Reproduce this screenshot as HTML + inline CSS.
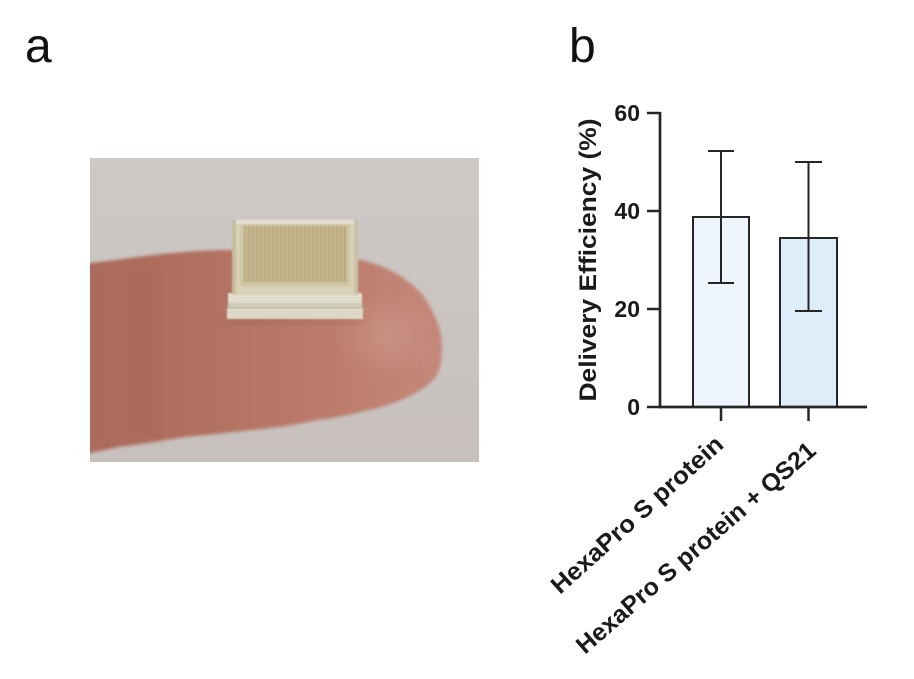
<!DOCTYPE html>
<html>
<head>
<meta charset="utf-8">
<style>
  html, body { margin: 0; padding: 0; background: #ffffff; }
  body { width: 914px; height: 679px; overflow: hidden; }
  svg { display: block; }
  text { font-family: "Liberation Sans", Arial, sans-serif; }
</style>
</head>
<body>
<svg width="914" height="679" viewBox="0 0 914 679" xmlns="http://www.w3.org/2000/svg">
  <defs>
    <clipPath id="photoClip">
      <rect x="90" y="158" width="389" height="304"/>
    </clipPath>
    <linearGradient id="bgGrad" x1="0" y1="0" x2="0" y2="1">
      <stop offset="0" stop-color="#cdc9c6"/>
      <stop offset="1" stop-color="#c7c0bd"/>
    </linearGradient>
    <linearGradient id="fingerGrad" x1="0" y1="0" x2="1" y2="0">
      <stop offset="0" stop-color="#a96a5b"/>
      <stop offset="0.35" stop-color="#b27161"/>
      <stop offset="0.75" stop-color="#bd7e6e"/>
      <stop offset="1" stop-color="#c4897b"/>
    </linearGradient>
    <radialGradient id="tipGlow" cx="0.5" cy="0.5" r="0.5">
      <stop offset="0" stop-color="#d09a8a" stop-opacity="0.6"/>
      <stop offset="1" stop-color="#d09a8a" stop-opacity="0"/>
    </radialGradient>
    <pattern id="stripes" x="0" y="0" width="4" height="10" patternUnits="userSpaceOnUse">
      <rect width="4" height="10" fill="#c9ba93"/>
      <rect width="1.6" height="10" fill="#b3a27a"/>
    </pattern>
    <filter id="soft" x="-5%" y="-5%" width="110%" height="110%">
      <feGaussianBlur stdDeviation="1.6"/>
    </filter>
    <filter id="soft1" x="-5%" y="-5%" width="110%" height="110%">
      <feGaussianBlur stdDeviation="0.7"/>
    </filter>
    <filter id="soft2" x="-20%" y="-20%" width="140%" height="140%">
      <feGaussianBlur stdDeviation="6"/>
    </filter>
  </defs>

  <!-- Panel letters -->
  <text x="25" y="62" font-size="48" fill="#111">a</text>
  <text x="569" y="62" font-size="48" fill="#111">b</text>

  <!-- Photo -->
  <g clip-path="url(#photoClip)">
    <rect x="90" y="158" width="389" height="304" fill="url(#bgGrad)"/>
    <g filter="url(#soft)">
      <path d="M 80 264 L 92 263 C 130 258 165 253 185 252 C 205 250 220 250 230 250
               L 362 260 C 380 265 392 270 402 277 C 416 287 424 295 428 303
               C 436 318 442 330 442 345 C 442 357 441 367 437 375
               C 432 383 422 390 408 397 C 395 403 380 408 368 410
               C 350 415 335 418 318 420 C 295 425 275 428 252 430
               C 225 433 205 435 185 437 C 160 441 135 445 118 447
               C 105 450 95 452 80 455 Z" fill="url(#fingerGrad)"/>
    </g>
    <ellipse cx="385" cy="335" rx="50" ry="45" fill="url(#tipGlow)"/>
    <rect x="130" y="266" width="30" height="175" fill="#9a5b4d" opacity="0.18" filter="url(#soft2)"/>
    <rect x="226" y="316" width="138" height="8" fill="#8f5548" opacity="0.3" filter="url(#soft2)"/>

    <!-- Device -->
    <g filter="url(#soft1)">
      <rect x="227" y="306" width="136" height="13" fill="#ddd8c6"/>
      <rect x="227" y="306" width="136" height="2" fill="#9d9684"/>
      <rect x="228" y="293" width="134" height="14" fill="#e3dfcf"/>
      <rect x="228" y="303" width="134" height="3" fill="#cfc9b4"/>
      <rect x="232" y="220" width="126" height="75" fill="#d8d1b6"/>
      <rect x="232" y="220" width="126" height="4" fill="#e6e1cf"/>
      <rect x="240" y="224" width="110" height="62" fill="#d0c6a6"/>
      <rect x="244" y="226" width="103" height="56" fill="url(#stripes)"/>
      <rect x="232" y="220" width="4" height="75" fill="#c4bd9f"/>
      <rect x="354" y="220" width="4" height="75" fill="#c9c2a6"/>
    </g>
  </g>

  <!-- Chart b -->
  <g stroke="#262626" fill="none">
    <rect x="693" y="217" width="56" height="190" fill="#eef5fd" stroke-width="2"/>
    <rect x="780" y="238" width="57" height="169" fill="#ddedfa" stroke-width="2"/>
    <line x1="721" y1="151" x2="721" y2="283" stroke-width="2"/>
    <line x1="708" y1="151" x2="734" y2="151" stroke-width="2"/>
    <line x1="708" y1="283" x2="734" y2="283" stroke-width="2"/>
    <line x1="808.5" y1="162" x2="808.5" y2="311" stroke-width="2"/>
    <line x1="795" y1="162" x2="822" y2="162" stroke-width="2"/>
    <line x1="795" y1="311" x2="822" y2="311" stroke-width="2"/>
    <line x1="660" y1="112" x2="660" y2="408.3" stroke-width="2.7"/>
    <line x1="658.7" y1="407" x2="867" y2="407" stroke-width="2.7"/>
    <line x1="647" y1="113" x2="660" y2="113" stroke-width="2.5"/>
    <line x1="647" y1="211" x2="660" y2="211" stroke-width="2.5"/>
    <line x1="647" y1="309" x2="660" y2="309" stroke-width="2.5"/>
    <line x1="647" y1="407" x2="660" y2="407" stroke-width="2.5"/>
    <line x1="721" y1="407" x2="721" y2="421" stroke-width="2.5"/>
    <line x1="808.5" y1="407" x2="808.5" y2="421" stroke-width="2.5"/>
  </g>

  <g font-size="23" font-weight="bold" fill="#1a1a1a" text-anchor="end">
    <text x="640" y="121">60</text>
    <text x="640" y="219">40</text>
    <text x="640" y="317">20</text>
    <text x="640" y="415">0</text>
  </g>

  <text transform="translate(596,260) rotate(-90)" text-anchor="middle" font-size="24.5" font-weight="bold" fill="#1a1a1a" textLength="283" lengthAdjust="spacingAndGlyphs">Delivery Efficiency (%)</text>

  <text transform="translate(560,595) rotate(-42)" font-size="24.5" font-weight="bold" fill="#1a1a1a" textLength="222" lengthAdjust="spacingAndGlyphs">HexaPro S protein</text>
  <text transform="translate(585,655) rotate(-41)" font-size="24.5" font-weight="bold" fill="#1a1a1a" textLength="308" lengthAdjust="spacingAndGlyphs">HexaPro S protein + QS21</text>
</svg>
</body>
</html>
